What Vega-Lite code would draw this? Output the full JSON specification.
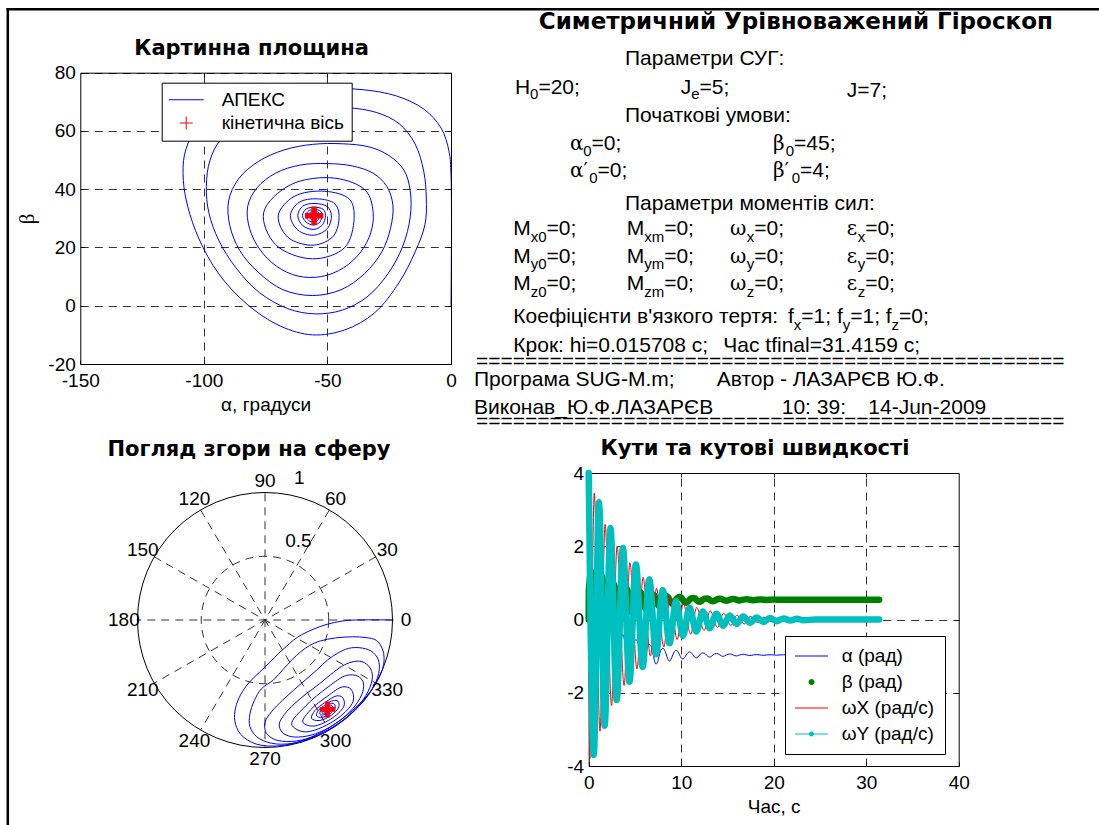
{
  "$schema": "https://vega.github.io/schema/vega-lite/v6.json",
  "width": 1099,
  "height": 825,
  "autosize": {"type": "none"},
  "padding": 0,
  "background": "white",
  "config": {
    "view": {"stroke": null},
    "axis": {
      "labelFont": "Liberation Sans", "labelFontSize": 19, "labelColor": "#000",
      "titleFont": "Liberation Sans", "titleFontSize": 19, "titleFontWeight": "normal", "titleColor": "#000",
      "domainColor": "#000", "tickColor": "#000", "tickSize": -4,
      "gridColor": "#333", "gridDash": [8, 6], "gridOpacity": 1,
      "labelFlush": false, "labelOverlap": false, "labelBound": false, "labelPadding": 9
    },
    "legend": {"labelFont": "Liberation Sans", "labelFontSize": 19, "labelColor": "#000"}
  },
  "datasets": {
    "path": [
      {"t":0,"a":0,"b":0},
      {"t":0.016,"a":0,"b":45},
      {"t":0.061,"a":-0.8,"b":53},
      {"t":0.106,"a":-4,"b":61},
      {"t":0.152,"a":-11,"b":67.5},
      {"t":0.197,"a":-22,"b":72},
      {"t":0.242,"a":-36,"b":74.2},
      {"t":0.287,"a":-52,"b":74.5},
      {"t":0.332,"a":-68,"b":73.5},
      {"t":0.377,"a":-83,"b":70.5},
      {"t":0.423,"a":-96,"b":65.5},
      {"t":0.468,"a":-104,"b":59.5},
      {"t":0.513,"a":-107.8,"b":52},
      {"t":0.558,"a":-108.3,"b":43},
      {"t":0.603,"a":-106.5,"b":34},
      {"t":0.648,"a":-102,"b":23},
      {"t":0.694,"a":-94,"b":11},
      {"t":0.739,"a":-82.5,"b":0.5},
      {"t":0.784,"a":-69,"b":-7},
      {"t":0.829,"a":-56,"b":-10},
      {"t":0.874,"a":-43,"b":-8.3},
      {"t":0.919,"a":-31,"b":-2.5},
      {"t":0.965,"a":-21,"b":8},
      {"t":1.01,"a":-14.5,"b":18.5},
      {"t":1.055,"a":-10.5,"b":28},
      {"t":1.1,"a":-10,"b":37},
      {"t":1.154,"a":-11,"b":46},
      {"t":1.209,"a":-14.5,"b":55.5},
      {"t":1.263,"a":-21,"b":62.5},
      {"t":1.317,"a":-30,"b":66.3},
      {"t":1.372,"a":-42,"b":68},
      {"t":1.426,"a":-56,"b":67.8},
      {"t":1.48,"a":-70,"b":65.5},
      {"t":1.535,"a":-82,"b":61.5},
      {"t":1.589,"a":-93,"b":57},
      {"t":1.643,"a":-97.5,"b":50},
      {"t":1.698,"a":-99,"b":41},
      {"t":1.752,"a":-98,"b":32},
      {"t":1.807,"a":-94,"b":22.5},
      {"t":1.861,"a":-87,"b":13},
      {"t":1.915,"a":-77.5,"b":4.5},
      {"t":1.97,"a":-66,"b":-1},
      {"t":2.024,"a":-55,"b":-2.8},
      {"t":2.078,"a":-44,"b":-1.5},
      {"t":2.133,"a":-34,"b":3},
      {"t":2.187,"a":-25.5,"b":11},
      {"t":2.241,"a":-19.5,"b":20.5},
      {"t":2.296,"a":-16.5,"b":30.5},
      {"t":2.35,"a":-16.5,"b":39.5},
      {"t":2.421,"a":-19,"b":46.5},
      {"t":2.492,"a":-25,"b":51.5},
      {"t":2.563,"a":-33,"b":54.5},
      {"t":2.634,"a":-44,"b":55.6},
      {"t":2.705,"a":-56,"b":55.4},
      {"t":2.776,"a":-67.5,"b":53.5},
      {"t":2.847,"a":-78,"b":49.5},
      {"t":2.918,"a":-86,"b":43.5},
      {"t":2.989,"a":-90,"b":36},
      {"t":3.061,"a":-89.5,"b":27.5},
      {"t":3.132,"a":-85.5,"b":19},
      {"t":3.203,"a":-78,"b":11.5},
      {"t":3.274,"a":-68,"b":5.5},
      {"t":3.345,"a":-56,"b":3.5},
      {"t":3.416,"a":-44.5,"b":5.5},
      {"t":3.487,"a":-35,"b":11},
      {"t":3.558,"a":-28,"b":18.5},
      {"t":3.629,"a":-24.5,"b":26.5},
      {"t":3.7,"a":-23.5,"b":34.5},
      {"t":3.782,"a":-26,"b":41},
      {"t":3.865,"a":-31.5,"b":45.5},
      {"t":3.947,"a":-40,"b":48},
      {"t":4.029,"a":-50,"b":48.8},
      {"t":4.112,"a":-61,"b":48.3},
      {"t":4.194,"a":-71,"b":45.5},
      {"t":4.276,"a":-78.5,"b":40.5},
      {"t":4.359,"a":-82.3,"b":34},
      {"t":4.441,"a":-81.5,"b":26.5},
      {"t":4.524,"a":-77.5,"b":19.5},
      {"t":4.606,"a":-70.5,"b":13.5},
      {"t":4.688,"a":-62,"b":10.2},
      {"t":4.771,"a":-52.5,"b":10},
      {"t":4.853,"a":-43.5,"b":13},
      {"t":4.935,"a":-36.5,"b":18.5},
      {"t":5.018,"a":-32.5,"b":25},
      {"t":5.1,"a":-31.5,"b":32},
      {"t":5.281,"a":-34.5,"b":39.5},
      {"t":5.463,"a":-47,"b":43.8},
      {"t":5.644,"a":-65,"b":41.5},
      {"t":5.825,"a":-75.8,"b":32},
      {"t":6.006,"a":-71,"b":21},
      {"t":6.188,"a":-56,"b":16.1},
      {"t":6.369,"a":-43,"b":20},
      {"t":6.55,"a":-39.2,"b":30},
      {"t":6.731,"a":-41,"b":36.5},
      {"t":6.913,"a":-51,"b":39.3},
      {"t":7.094,"a":-63.5,"b":37.5},
      {"t":7.275,"a":-69.9,"b":31},
      {"t":7.456,"a":-66,"b":23.5},
      {"t":7.638,"a":-55.5,"b":20.8},
      {"t":7.819,"a":-47.5,"b":24},
      {"t":8.0,"a":-45.3,"b":31},
      {"t":8.181,"a":-47,"b":35},
      {"t":8.363,"a":-54,"b":36.7},
      {"t":8.544,"a":-61.5,"b":35.5},
      {"t":8.725,"a":-65,"b":31},
      {"t":8.906,"a":-62,"b":26},
      {"t":9.088,"a":-55.5,"b":24.2},
      {"t":9.269,"a":-50,"b":26.5},
      {"t":9.45,"a":-48.4,"b":31},
      {"t":9.631,"a":-50,"b":34},
      {"t":9.813,"a":-55,"b":35.1},
      {"t":9.994,"a":-60,"b":34.2},
      {"t":10.175,"a":-62,"b":31},
      {"t":10.356,"a":-60,"b":27.5},
      {"t":10.538,"a":-55.5,"b":26.2},
      {"t":10.719,"a":-52,"b":27.8},
      {"t":10.9,"a":-50.8,"b":31},
      {"t":11.081,"a":-51.7,"b":33.1},
      {"t":11.263,"a":-55.2,"b":33.8},
      {"t":11.444,"a":-58.6,"b":33.2},
      {"t":11.625,"a":-60.1,"b":31},
      {"t":11.806,"a":-58.6,"b":28.7},
      {"t":11.988,"a":-55.5,"b":27.7},
      {"t":12.169,"a":-53,"b":28.8},
      {"t":12.35,"a":-52.3,"b":31},
      {"t":12.531,"a":-52.8,"b":32.5},
      {"t":12.713,"a":-55.3,"b":33},
      {"t":12.894,"a":-57.6,"b":32.6},
      {"t":13.075,"a":-58.7,"b":31},
      {"t":13.256,"a":-57.6,"b":29.3},
      {"t":13.438,"a":-55.5,"b":28.7},
      {"t":13.619,"a":-53.8,"b":29.5},
      {"t":13.8,"a":-53.3,"b":31},
      {"t":13.981,"a":-53.7,"b":32.1},
      {"t":14.163,"a":-55.3,"b":32.4},
      {"t":14.344,"a":-56.9,"b":32.1},
      {"t":14.525,"a":-57.7,"b":31},
      {"t":14.706,"a":-56.9,"b":29.9},
      {"t":14.888,"a":-55.4,"b":29.5},
      {"t":15.069,"a":-54.3,"b":30},
      {"t":15.25,"a":-54,"b":31},
      {"t":15.431,"a":-54.3,"b":31.8},
      {"t":15.613,"a":-55.4,"b":32},
      {"t":15.794,"a":-56.5,"b":31.8},
      {"t":15.975,"a":-57,"b":31},
      {"t":16.156,"a":-56.4,"b":30.2},
      {"t":16.338,"a":-55.4,"b":29.9},
      {"t":16.519,"a":-54.7,"b":30.3},
      {"t":16.7,"a":-54.5,"b":31},
      {"t":16.881,"a":-54.7,"b":31.5},
      {"t":17.063,"a":-55.4,"b":31.7},
      {"t":17.244,"a":-56.1,"b":31.5},
      {"t":17.425,"a":-56.5,"b":31},
      {"t":17.606,"a":-56.1,"b":30.5},
      {"t":17.788,"a":-55.4,"b":30.3},
      {"t":17.969,"a":-55,"b":30.5},
      {"t":18.15,"a":-54.9,"b":31},
      {"t":18.513,"a":-55.4,"b":31.4},
      {"t":18.875,"a":-56.1,"b":31},
      {"t":19.238,"a":-55.4,"b":30.6},
      {"t":19.6,"a":-55.1,"b":31},
      {"t":19.963,"a":-55.4,"b":31.25},
      {"t":20.325,"a":-55.8,"b":31},
      {"t":20.688,"a":-55.4,"b":30.75},
      {"t":21.05,"a":-55.2,"b":30.95},
      {"t":23,"a":-55.4,"b":30.95},
      {"t":26,"a":-55.4,"b":30.9},
      {"t":31.4,"a":-55.4,"b":30.9}
    ],
    "rates": [
      {"t":0,"s":"wy","v":4},{"t":0.55,"s":"wy","v":-3.7},{"t":1.1,"s":"wy","v":3.2},{"t":1.72,"s":"wy","v":-2.9},
      {"t":2.35,"s":"wy","v":2.5},{"t":3.02,"s":"wy","v":-2.2},{"t":3.7,"s":"wy","v":1.95},{"t":4.4,"s":"wy","v":-1.7},
      {"t":5.1,"s":"wy","v":1.5},{"t":5.83,"s":"wy","v":-1.3},{"t":6.55,"s":"wy","v":1.1},{"t":7.28,"s":"wy","v":-0.95},
      {"t":8.0,"s":"wy","v":0.8},{"t":8.73,"s":"wy","v":-0.65},{"t":9.45,"s":"wy","v":0.5},{"t":10.18,"s":"wy","v":-0.45},
      {"t":10.9,"s":"wy","v":0.32},{"t":11.63,"s":"wy","v":-0.33},{"t":12.35,"s":"wy","v":0.22},{"t":13.08,"s":"wy","v":-0.24},
      {"t":13.8,"s":"wy","v":0.16},{"t":14.53,"s":"wy","v":-0.17},{"t":15.25,"s":"wy","v":0.11},{"t":15.98,"s":"wy","v":-0.12},
      {"t":16.7,"s":"wy","v":0.08},{"t":17.43,"s":"wy","v":-0.09},{"t":18.15,"s":"wy","v":0.055},{"t":18.88,"s":"wy","v":-0.065},
      {"t":19.6,"s":"wy","v":0.04},{"t":20.33,"s":"wy","v":-0.045},{"t":21.05,"s":"wy","v":0.03},{"t":21.78,"s":"wy","v":-0.03},
      {"t":22.5,"s":"wy","v":0.02},{"t":23.23,"s":"wy","v":-0.02},{"t":24.5,"s":"wy","v":0},{"t":31.4,"s":"wy","v":0},
      {"t":0,"s":"wx","v":0},{"t":0.12,"s":"wx","v":-3.8},{"t":0.6,"s":"wx","v":3.45},{"t":1.22,"s":"wx","v":-3.05},
      {"t":1.77,"s":"wx","v":2.6},{"t":2.47,"s":"wx","v":-2.35},{"t":3.07,"s":"wx","v":2.0},{"t":3.82,"s":"wx","v":-1.8},
      {"t":4.45,"s":"wx","v":1.55},{"t":5.22,"s":"wx","v":-1.35},{"t":5.88,"s":"wx","v":1.15},{"t":6.67,"s":"wx","v":-1.0},
      {"t":7.33,"s":"wx","v":0.85},{"t":8.12,"s":"wx","v":-0.75},{"t":8.78,"s":"wx","v":0.62},{"t":9.57,"s":"wx","v":-0.55},
      {"t":10.23,"s":"wx","v":0.45},{"t":11.02,"s":"wx","v":-0.4},{"t":11.68,"s":"wx","v":0.33},{"t":12.47,"s":"wx","v":-0.3},
      {"t":13.13,"s":"wx","v":0.24},{"t":13.92,"s":"wx","v":-0.22},{"t":14.58,"s":"wx","v":0.17},{"t":15.37,"s":"wx","v":-0.16},
      {"t":16.03,"s":"wx","v":0.12},{"t":16.82,"s":"wx","v":-0.12},{"t":17.48,"s":"wx","v":0.085},{"t":18.27,"s":"wx","v":-0.085},
      {"t":18.93,"s":"wx","v":0.06},{"t":19.72,"s":"wx","v":-0.06},{"t":20.38,"s":"wx","v":0.04},{"t":21.17,"s":"wx","v":-0.04},
      {"t":21.83,"s":"wx","v":0.03},{"t":22.62,"s":"wx","v":-0.03},{"t":24,"s":"wx","v":0},{"t":31.4,"s":"wx","v":0}
    ],
    "kin": [{"a":-55.4,"b":30.9}],
    "spokes": [
      {"x":1,"y":0,"x2":-1,"y2":0},
      {"x":0.866,"y":0.5,"x2":-0.866,"y2":-0.5},
      {"x":0.5,"y":0.866,"x2":-0.5,"y2":-0.866},
      {"x":0,"y":1,"x2":0,"y2":-1},
      {"x":-0.5,"y":0.866,"x2":0.5,"y2":-0.866},
      {"x":-0.866,"y":0.5,"x2":0.866,"y2":-0.5}
    ],
    "rings": [{"r":1,"k":"edge"},{"r":0.5,"k":"grid"}],
    "plabels": [
      {"s":"0","x":1.1,"y":0},{"s":"30","x":0.953,"y":0.55},{"s":"60","x":0.55,"y":0.953},
      {"s":"90","x":0,"y":1.1},{"s":"120","x":-0.55,"y":0.953},{"s":"150","x":-0.953,"y":0.55},
      {"s":"180","x":-1.1,"y":0},{"s":"210","x":-0.953,"y":-0.55},{"s":"240","x":-0.55,"y":-0.953},
      {"s":"270","x":0,"y":-1.1},{"s":"300","x":0.55,"y":-0.953},{"s":"330","x":0.953,"y":-0.55},
      {"s":"0.5","x":0.26,"y":0.62},{"s":"1","x":0.267,"y":1.118}
    ],
    "notes": [
      {"x":0.7223,"y":0.9748,"s":"Симетричний Урівноважений Гіроскоп","k":"h"},
      {"x":0.5658,"y":0.931,"s":"Параметри СУГ:","k":"t"},
      {"x":0.4651,"y":0.8955,"s":"H","k":"t"},
      {"x":0.4789,"y":0.889,"s":"0","k":"s"},
      {"x":0.4865,"y":0.8955,"s":"=20;","k":"t"},
      {"x":0.6168,"y":0.8955,"s":"J","k":"t"},
      {"x":0.6265,"y":0.889,"s":"e","k":"s"},
      {"x":0.6341,"y":0.8955,"s":"=5;","k":"t"},
      {"x":0.7689,"y":0.8922,"s":"J=7;","k":"t"},
      {"x":0.5658,"y":0.8616,"s":"Початкові умови:","k":"t"},
      {"x":0.5154,"y":0.8269,"s":"α","k":"g"},
      {"x":0.5275,"y":0.8196,"s":"0","k":"s"},
      {"x":0.5351,"y":0.8269,"s":"=0;","k":"t"},
      {"x":0.7014,"y":0.8269,"s":"β","k":"g"},
      {"x":0.7131,"y":0.8196,"s":"0","k":"s"},
      {"x":0.7207,"y":0.8269,"s":"=45;","k":"t"},
      {"x":0.5154,"y":0.7942,"s":"α′","k":"g"},
      {"x":0.533,"y":0.7865,"s":"0","k":"s"},
      {"x":0.5406,"y":0.7942,"s":"=0;","k":"t"},
      {"x":0.7014,"y":0.7942,"s":"β′","k":"g"},
      {"x":0.7186,"y":0.7865,"s":"0","k":"s"},
      {"x":0.7262,"y":0.7942,"s":"=4;","k":"t"},
      {"x":0.5658,"y":0.7534,"s":"Параметри моментів сил:","k":"t"},
      {"x":0.4635,"y":0.7228,"s":"M","k":"t"},
      {"x":0.4795,"y":0.7146,"s":"x0","k":"s"},
      {"x":0.494,"y":0.7228,"s":"=0;","k":"t"},
      {"x":0.5674,"y":0.7228,"s":"M","k":"t"},
      {"x":0.5834,"y":0.7146,"s":"xm","k":"s"},
      {"x":0.6017,"y":0.7228,"s":"=0;","k":"t"},
      {"x":0.662,"y":0.7228,"s":"ω","k":"g"},
      {"x":0.6774,"y":0.7146,"s":"x","k":"s"},
      {"x":0.6843,"y":0.7228,"s":"=0;","k":"t"},
      {"x":0.7689,"y":0.7228,"s":"ε","k":"g"},
      {"x":0.779,"y":0.7146,"s":"x","k":"s"},
      {"x":0.7858,"y":0.7228,"s":"=0;","k":"t"},
      {"x":0.4635,"y":0.6888,"s":"M","k":"t"},
      {"x":0.4795,"y":0.6806,"s":"y0","k":"s"},
      {"x":0.494,"y":0.6888,"s":"=0;","k":"t"},
      {"x":0.5674,"y":0.6888,"s":"M","k":"t"},
      {"x":0.5834,"y":0.6806,"s":"ym","k":"s"},
      {"x":0.6017,"y":0.6888,"s":"=0;","k":"t"},
      {"x":0.662,"y":0.6888,"s":"ω","k":"g"},
      {"x":0.6774,"y":0.6806,"s":"y","k":"s"},
      {"x":0.6843,"y":0.6888,"s":"=0;","k":"t"},
      {"x":0.7689,"y":0.6888,"s":"ε","k":"g"},
      {"x":0.779,"y":0.6806,"s":"y","k":"s"},
      {"x":0.7858,"y":0.6888,"s":"=0;","k":"t"},
      {"x":0.4635,"y":0.6554,"s":"M","k":"t"},
      {"x":0.4795,"y":0.6472,"s":"z0","k":"s"},
      {"x":0.494,"y":0.6554,"s":"=0;","k":"t"},
      {"x":0.5674,"y":0.6554,"s":"M","k":"t"},
      {"x":0.5834,"y":0.6472,"s":"zm","k":"s"},
      {"x":0.6017,"y":0.6554,"s":"=0;","k":"t"},
      {"x":0.662,"y":0.6554,"s":"ω","k":"g"},
      {"x":0.6774,"y":0.6472,"s":"z","k":"s"},
      {"x":0.6843,"y":0.6554,"s":"=0;","k":"t"},
      {"x":0.7689,"y":0.6554,"s":"ε","k":"g"},
      {"x":0.779,"y":0.6472,"s":"z","k":"s"},
      {"x":0.7858,"y":0.6554,"s":"=0;","k":"t"},
      {"x":0.4635,"y":0.615,"s":"Коефіцієнти в'язкого тертя:","k":"t"},
      {"x":0.7151,"y":0.615,"s":"f","k":"t"},
      {"x":0.7204,"y":0.6068,"s":"x","k":"s"},
      {"x":0.7273,"y":0.615,"s":"=1;","k":"t"},
      {"x":0.7599,"y":0.615,"s":"f","k":"t"},
      {"x":0.7652,"y":0.6068,"s":"y","k":"s"},
      {"x":0.7721,"y":0.615,"s":"=1;","k":"t"},
      {"x":0.8047,"y":0.615,"s":"f","k":"t"},
      {"x":0.81,"y":0.6068,"s":"z","k":"s"},
      {"x":0.8169,"y":0.615,"s":"=0;","k":"t"},
      {"x":0.4635,"y":0.5798,"s":"Крок:  hi=0.015708 c;","k":"t"},
      {"x":0.6559,"y":0.5798,"s":"Час tfinal=31.4159 c;","k":"t"},
      {"x":0.4293,"y":0.5598,"s":"================================================","k":"t"},
      {"x":0.4275,"y":0.5378,"s":"Програма  SUG-M.m;","k":"t"},
      {"x":0.6498,"y":0.5378,"s":"Автор - ЛАЗАРЄВ Ю.Ф.","k":"t"},
      {"x":0.4275,"y":0.5035,"s":"Виконав_Ю.Ф.ЛАЗАРЄВ","k":"t"},
      {"x":0.7094,"y":0.5035,"s":"10: 39:","k":"t"},
      {"x":0.7887,"y":0.5035,"s":"14-Jun-2009","k":"t"},
      {"x":0.4293,"y":0.4863,"s":"================================================","k":"t"}
    ]
  },
  "resolve": {
    "scale": {"x": "independent", "y": "independent", "color": "independent", "shape": "independent", "size": "independent"},
    "axis": {"x": "independent", "y": "independent"},
    "legend": {"color": "independent", "shape": "independent"}
  },
  "layer": [
    {
      "data": {"name": "notes"},
      "layer": [
        {
          "transform": [{"filter": "datum.k == 't'"}],
          "mark": {"type": "text", "font": "Liberation Sans", "fontSize": 21, "align": "left", "baseline": "alphabetic", "color": "#000"},
          "encoding": {
            "x": {"field": "x", "type": "quantitative", "scale": {"domain": [0, 1], "range": [7.3, 1099], "nice": false, "zero": false},
                  "axis": {"orient": "top", "offset": -8.7, "domain": true, "domainWidth": 2.5, "domainCap": "square", "ticks": false, "labels": false, "grid": false, "title": null}},
            "y": {"field": "y", "type": "quantitative", "scale": {"domain": [0, 1], "range": [825, 8.7], "nice": false, "zero": false},
                  "axis": {"orient": "left", "offset": -7.3, "domain": true, "domainWidth": 2.5, "domainCap": "square", "ticks": false, "labels": false, "grid": false, "title": null}},
            "text": {"field": "s", "type": "nominal"}
          }
        },
        {
          "transform": [{"filter": "datum.k == 's'"}],
          "mark": {"type": "text", "font": "Liberation Sans", "fontSize": 15, "align": "left", "baseline": "alphabetic", "color": "#000"},
          "encoding": {
            "x": {"field": "x", "type": "quantitative",
                  "axis": {"orient": "top", "offset": -8.7, "domain": true, "domainWidth": 2.5, "domainCap": "square", "ticks": false, "labels": false, "grid": false, "title": null}},
            "y": {"field": "y", "type": "quantitative",
                  "axis": {"orient": "left", "offset": -7.3, "domain": true, "domainWidth": 2.5, "domainCap": "square", "ticks": false, "labels": false, "grid": false, "title": null}},
            "text": {"field": "s", "type": "nominal"}
          }
        },
        {
          "transform": [{"filter": "datum.k == 'g'"}],
          "mark": {"type": "text", "font": "DejaVu Serif", "fontSize": 20, "align": "left", "baseline": "alphabetic", "color": "#000"},
          "encoding": {
            "x": {"field": "x", "type": "quantitative",
                  "axis": {"orient": "top", "offset": -8.7, "domain": true, "domainWidth": 2.5, "domainCap": "square", "ticks": false, "labels": false, "grid": false, "title": null}},
            "y": {"field": "y", "type": "quantitative",
                  "axis": {"orient": "left", "offset": -7.3, "domain": true, "domainWidth": 2.5, "domainCap": "square", "ticks": false, "labels": false, "grid": false, "title": null}},
            "text": {"field": "s", "type": "nominal"}
          }
        },
        {
          "transform": [{"filter": "datum.k == 'h'"}],
          "mark": {"type": "text", "font": "DejaVu Sans", "fontSize": 23, "fontWeight": "bold", "align": "center", "baseline": "alphabetic", "color": "#000"},
          "encoding": {
            "x": {"field": "x", "type": "quantitative",
                  "axis": {"orient": "top", "offset": -8.7, "domain": true, "domainWidth": 2.5, "domainCap": "square", "ticks": false, "labels": false, "grid": false, "title": null}},
            "y": {"field": "y", "type": "quantitative",
                  "axis": {"orient": "left", "offset": -7.3, "domain": true, "domainWidth": 2.5, "domainCap": "square", "ticks": false, "labels": false, "grid": false, "title": null}},
            "text": {"field": "s", "type": "nominal"}
          }
        }
      ]
    },
    {
      "layer": [
        {
          "data": {"name": "path"},
          "mark": {"type": "line", "color": "#0000ff", "strokeWidth": 1, "interpolate": "catmull-rom"},
          "encoding": {
            "x": {"field": "a", "type": "quantitative", "scale": {"domain": [-150, 0], "range": [80.3, 451], "nice": false, "zero": false},
                  "axis": {"orient": "bottom", "offset": -461, "values": [-150, -100, -50, 0], "labelExpr": "'' + datum.value", "grid": false, "title": "α, градуси", "titlePadding": 5, "labelPadding": 11}},
            "y": {"field": "b", "type": "quantitative", "scale": {"domain": [-20, 80], "range": [364, 72.7], "nice": false, "zero": false},
                  "axis": {"orient": "left", "offset": -80.3, "values": [-20, 0, 20, 40, 60, 80], "labelExpr": "'' + datum.value", "grid": true, "title": "β", "titleFont": "Liberation Serif", "titleFontSize": 21, "titlePadding": 10}},
            "order": {"field": "t", "type": "quantitative"}
          }
        },
        {
          "data": {"name": "kin"},
          "mark": {"type": "point", "shape": "M-1,-0.3H-0.3V-1H0.3V-0.3H1V0.3H0.3V1H-0.3V0.3H-1Z", "filled": true, "color": "#ff0000", "size": 340, "opacity": 1},
          "encoding": {
            "x": {"field": "a", "type": "quantitative", "axis": {"orient": "top", "offset": -72.7, "values": [-100, -50], "labels": false, "title": null, "grid": true}},
            "y": {"field": "b", "type": "quantitative", "axis": {"orient": "right", "offset": -648, "values": [0, 20, 40, 60], "labels": false, "title": null, "grid": false, "zindex": 1}}
          }
        },
        {
          "data": {"values": [{}]},
          "mark": {"type": "text", "text": "Картинна площина", "font": "DejaVu Sans", "fontWeight": "bold", "fontSize": 21, "align": "center", "baseline": "alphabetic", "color": "#000"},
          "encoding": {
            "x": {"datum": -80.7, "type": "quantitative", "axis": null},
            "y": {"datum": 86.1, "type": "quantitative", "axis": null}
          }
        },
        {
          "data": {"values": [{"s": "АПЕКС"}, {"s": "кінетична вісь"}]},
          "mark": {"type": "point", "filled": true, "opacity": 0},
          "encoding": {
            "color": {"field": "s", "type": "nominal",
                      "scale": {"domain": ["АПЕКС", "кінетична вісь"], "range": ["#0000ff", "#ff0000"]},
                      "legend": {"title": null, "orient": "none", "legendX": 161.7, "legendY": 82.7, "direction": "vertical", "padding": 7, "strokeColor": "#000", "fillColor": "#fff", "symbolSize": 400, "symbolStrokeWidth": 0, "labelOffset": 33, "rowPadding": 3.4, "labelFontSize": 19, "symbolOpacity": 1}},
            "shape": {"field": "s", "type": "nominal",
                      "scale": {"domain": ["АПЕКС", "кінетична вісь"], "range": ["M-1,-0.05H2.5V0.05H-1Z", "M0.1,-0.05H1.4V0.05H0.1ZM0.7,-0.65H0.8V0.65H0.7Z"]},
                      "legend": {"title": null, "orient": "none", "legendX": 161.7, "legendY": 82.7, "direction": "vertical", "padding": 7, "strokeColor": "#000", "fillColor": "#fff", "symbolSize": 400, "symbolStrokeWidth": 0, "labelOffset": 33, "rowPadding": 3.4, "labelFontSize": 19, "symbolOpacity": 1}}
          }
        }
      ]
    },
    {
      "layer": [
        {
          "data": {"name": "spokes"},
          "mark": {"type": "rule", "color": "#333", "strokeDash": [8, 6], "strokeWidth": 1},
          "encoding": {
            "x": {"field": "x", "type": "quantitative", "scale": {"domain": [-1, 1], "range": [136.7, 393.3], "nice": false, "zero": false}, "axis": null},
            "y": {"field": "y", "type": "quantitative", "scale": {"domain": [-1, 1], "range": [746.7, 493.3], "nice": false, "zero": false}, "axis": null},
            "x2": {"field": "x2"},
            "y2": {"field": "y2"}
          }
        },
        {
          "data": {"name": "rings"},
          "transform": [{"filter": "datum.k == 'grid'"}],
          "mark": {"type": "point", "shape": "circle", "filled": false, "stroke": "#333", "strokeDash": [8, 6], "strokeWidth": 1, "opacity": 1},
          "encoding": {
            "x": {"datum": 0, "type": "quantitative", "axis": null},
            "y": {"datum": 0, "type": "quantitative", "axis": null},
            "size": {"field": "r", "type": "quantitative", "scale": {"type": "pow", "exponent": 2, "domain": [0, 1], "range": [0, 65025]}, "legend": null}
          }
        },
        {
          "data": {"name": "rings"},
          "transform": [{"filter": "datum.k == 'edge'"}],
          "mark": {"type": "point", "shape": "circle", "filled": false, "stroke": "#000", "strokeWidth": 1, "opacity": 1},
          "encoding": {
            "x": {"datum": 0, "type": "quantitative", "axis": null},
            "y": {"datum": 0, "type": "quantitative", "axis": null},
            "size": {"field": "r", "type": "quantitative", "scale": {"type": "pow", "exponent": 2, "domain": [0, 1], "range": [0, 65025]}, "legend": null}
          }
        },
        {
          "data": {"name": "path"},
          "transform": [
            {"calculate": "cos(datum.b*PI/180)*cos(datum.a*PI/180)", "as": "px"},
            {"calculate": "cos(datum.b*PI/180)*sin(datum.a*PI/180)", "as": "py"}
          ],
          "mark": {"type": "line", "color": "#0000ff", "strokeWidth": 1, "interpolate": "catmull-rom"},
          "encoding": {
            "x": {"field": "px", "type": "quantitative", "axis": null},
            "y": {"field": "py", "type": "quantitative", "axis": null},
            "order": {"field": "t", "type": "quantitative"}
          }
        },
        {
          "data": {"name": "kin"},
          "transform": [
            {"calculate": "cos(datum.b*PI/180)*cos(datum.a*PI/180)", "as": "px"},
            {"calculate": "cos(datum.b*PI/180)*sin(datum.a*PI/180)", "as": "py"}
          ],
          "mark": {"type": "point", "shape": "M-1,-0.3H-0.3V-1H0.3V-0.3H1V0.3H0.3V1H-0.3V0.3H-1Z", "filled": true, "color": "#ff0000", "size": 250, "opacity": 1},
          "encoding": {
            "x": {"field": "px", "type": "quantitative", "axis": null},
            "y": {"field": "py", "type": "quantitative", "axis": null}
          }
        },
        {
          "data": {"name": "plabels"},
          "mark": {"type": "text", "font": "Liberation Sans", "fontSize": 19, "align": "center", "baseline": "middle", "color": "#000"},
          "encoding": {
            "x": {"field": "x", "type": "quantitative", "axis": null},
            "y": {"field": "y", "type": "quantitative", "axis": null},
            "text": {"field": "s", "type": "nominal"}
          }
        },
        {
          "data": {"values": [{}]},
          "mark": {"type": "text", "text": "Погляд згори на сферу", "font": "DejaVu Sans", "fontWeight": "bold", "fontSize": 21, "align": "center", "baseline": "alphabetic", "color": "#000"},
          "encoding": {
            "x": {"datum": -0.125, "type": "quantitative", "axis": null},
            "y": {"datum": 1.294, "type": "quantitative", "axis": null}
          }
        }
      ]
    },
    {
      "layer": [
        {
          "data": {"name": "path"},
          "transform": [{"calculate": "datum.a*PI/180", "as": "ar"}],
          "mark": {"type": "line", "color": "#0000ff", "strokeWidth": 1, "interpolate": "monotone"},
          "encoding": {
            "x": {"field": "t", "type": "quantitative", "scale": {"domain": [0, 40], "range": [588.7, 958.7], "nice": false, "zero": false},
                  "axis": {"orient": "bottom", "offset": -59, "values": [0, 10, 20, 30, 40], "labelExpr": "'' + datum.value", "grid": false, "title": "Час, с", "titlePadding": 5, "labelPadding": 11}},
            "y": {"field": "ar", "type": "quantitative", "scale": {"domain": [-4, 4], "range": [766, 473], "nice": false, "zero": false},
                  "axis": {"orient": "left", "offset": -588.7, "values": [-4, -2, 0, 2, 4], "labelExpr": "'' + datum.value", "grid": true, "title": null}}
          }
        },
        {
          "data": {"name": "path"},
          "transform": [{"calculate": "datum.b*PI/180", "as": "br"}],
          "mark": {"type": "line", "color": "#008000", "strokeWidth": 6.5, "strokeCap": "round", "strokeJoin": "round", "interpolate": "monotone"},
          "encoding": {
            "x": {"field": "t", "type": "quantitative", "axis": null},
            "y": {"field": "br", "type": "quantitative", "axis": null}
          }
        },
        {
          "data": {"name": "rates"},
          "transform": [{"filter": "datum.s == 'wx'"}],
          "mark": {"type": "line", "color": "#ff0000", "strokeWidth": 1, "interpolate": "monotone"},
          "encoding": {
            "x": {"field": "t", "type": "quantitative", "axis": null},
            "y": {"field": "v", "type": "quantitative", "axis": null}
          }
        },
        {
          "data": {"name": "rates"},
          "transform": [{"filter": "datum.s == 'wy'"}],
          "mark": {"type": "line", "color": "#00bfbf", "strokeWidth": 6.5, "strokeCap": "round", "strokeJoin": "round", "interpolate": "monotone"},
          "encoding": {
            "x": {"field": "t", "type": "quantitative", "axis": {"orient": "top", "offset": -473, "values": [10, 20, 30], "labels": false, "title": null, "grid": true}},
            "y": {"field": "v", "type": "quantitative", "axis": {"orient": "right", "offset": -140.3, "values": [-2, 0, 2], "labels": false, "title": null, "grid": false}}
          }
        },
        {
          "data": {"values": [{}]},
          "mark": {"type": "text", "text": "Кути та кутові швидкості", "font": "DejaVu Sans", "fontWeight": "bold", "fontSize": 21, "align": "center", "baseline": "alphabetic", "color": "#000"},
          "encoding": {
            "x": {"datum": 17.98, "type": "quantitative", "axis": null},
            "y": {"datum": 4.49, "type": "quantitative", "axis": null}
          }
        },
        {
          "data": {"values": [{"s": "α (рад)"}, {"s": "β (рад)"}, {"s": "ωX (рад/с)"}, {"s": "ωY (рад/с)"}]},
          "mark": {"type": "point", "filled": true, "opacity": 0},
          "encoding": {
            "color": {"field": "s", "type": "nominal",
                      "scale": {"domain": ["α (рад)", "β (рад)", "ωX (рад/с)", "ωY (рад/с)"], "range": ["#0000ff", "#008000", "#ff0000", "#00bfbf"]},
                      "legend": {"title": null, "orient": "none", "legendX": 785, "legendY": 636, "direction": "vertical", "padding": 10, "strokeColor": "#000", "fillColor": "#fff", "symbolSize": 400, "symbolStrokeWidth": 0, "labelOffset": 26.7, "rowPadding": 6, "labelFontSize": 19, "symbolOpacity": 1}},
            "shape": {"field": "s", "type": "nominal",
                      "scale": {"domain": ["α (рад)", "β (рад)", "ωX (рад/с)", "ωY (рад/с)"],
                                "range": ["M-1,-0.05H2.3V0.05H-1Z", "M0.95,0A0.3,0.3 0 1,1 0.35,0A0.3,0.3 0 1,1 0.95,0Z", "M-1,-0.05H2.3V0.05H-1Z", "M-1,-0.05H2.3V0.05H-1ZM0.9,0A0.25,0.25 0 1,1 0.4,0A0.25,0.25 0 1,1 0.9,0Z"]},
                      "legend": {"title": null, "orient": "none", "legendX": 785, "legendY": 636, "direction": "vertical", "padding": 10, "strokeColor": "#000", "fillColor": "#fff", "symbolSize": 400, "symbolStrokeWidth": 0, "labelOffset": 26.7, "rowPadding": 6, "labelFontSize": 19, "symbolOpacity": 1}}
          }
        }
      ]
    }
  ]
}
